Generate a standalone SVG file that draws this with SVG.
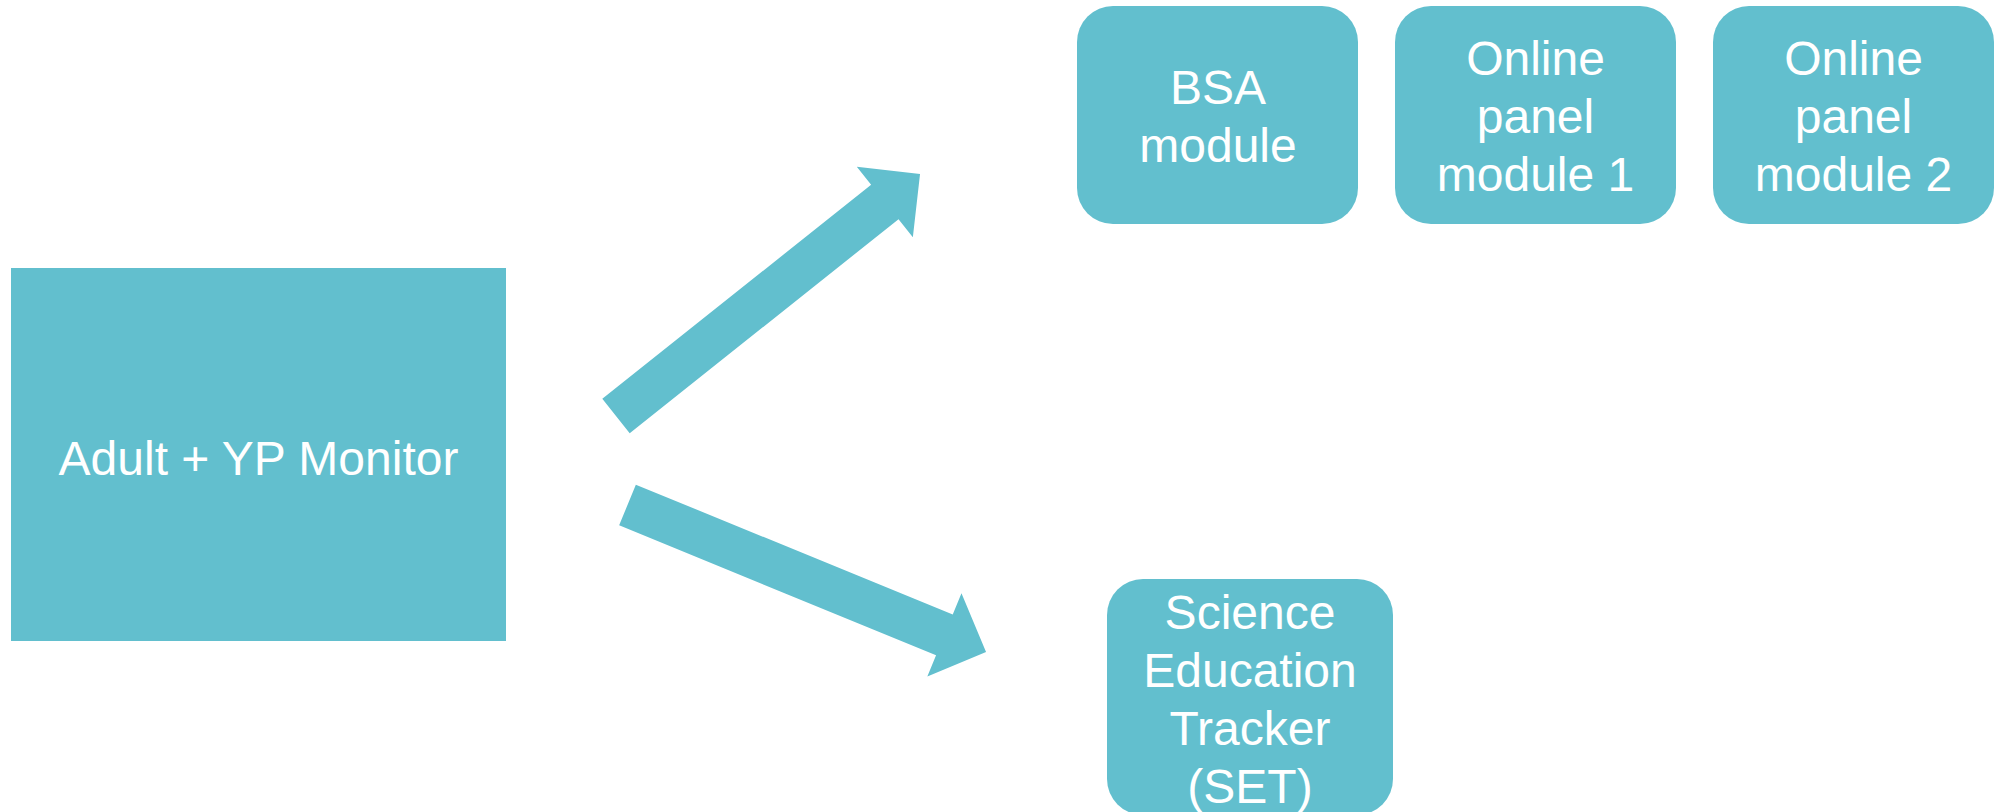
<svg xmlns="http://www.w3.org/2000/svg" width="2002" height="812" viewBox="0 0 2002 812">
  <style>
    .box { fill: #62BFCE; }
    .lbl { fill: #FFFFFF; font-family: "Liberation Sans", Arial, sans-serif; font-size: 48px; text-anchor: middle; }
    .arrow { fill: #62BFCE; }
  </style>
  <rect width="2002" height="812" fill="#FFFFFF"/>
  <g id="node-monitor">
    <rect class="box" x="11" y="268" width="495" height="373"/>
    <text class="lbl" x="258.5" y="475">Adult + YP Monitor</text>
  </g>
  <g id="node-bsa">
    <rect class="box" x="1077" y="6" width="281" height="218" rx="36" ry="36"/>
    <text class="lbl" x="1218" y="104">BSA</text>
    <text class="lbl" x="1218" y="162">module</text>
  </g>
  <g id="node-online1">
    <rect class="box" x="1395" y="6" width="281" height="218" rx="36" ry="36"/>
    <text class="lbl" x="1535.5" y="75">Online</text>
    <text class="lbl" x="1535.5" y="133">panel</text>
    <text class="lbl" x="1535.5" y="191">module 1</text>
  </g>
  <g id="node-online2">
    <rect class="box" x="1713" y="6" width="281" height="218" rx="36" ry="36"/>
    <text class="lbl" x="1853.5" y="75">Online</text>
    <text class="lbl" x="1853.5" y="133">panel</text>
    <text class="lbl" x="1853.5" y="191">module 2</text>
  </g>
  <g id="node-set">
    <rect class="box" x="1107" y="579" width="286" height="236" rx="36" ry="36"/>
    <text class="lbl" x="1250" y="629">Science</text>
    <text class="lbl" x="1250" y="687">Education</text>
    <text class="lbl" x="1250" y="745">Tracker</text>
    <text class="lbl" x="1250" y="803">(SET)</text>
  </g>
  <g id="connectors">
    <polygon class="arrow" transform="translate(616,416) rotate(-38.52)" points="0,-22 343.6,-22 343.6,-45 388.6,0 343.6,45 343.6,22 0,22"/>
    <polygon class="arrow" transform="translate(627.5,505) rotate(22.29)" points="0,-22 342.5,-22 342.5,-45 387.5,0 342.5,45 342.5,22 0,22"/>
  </g>
</svg>
